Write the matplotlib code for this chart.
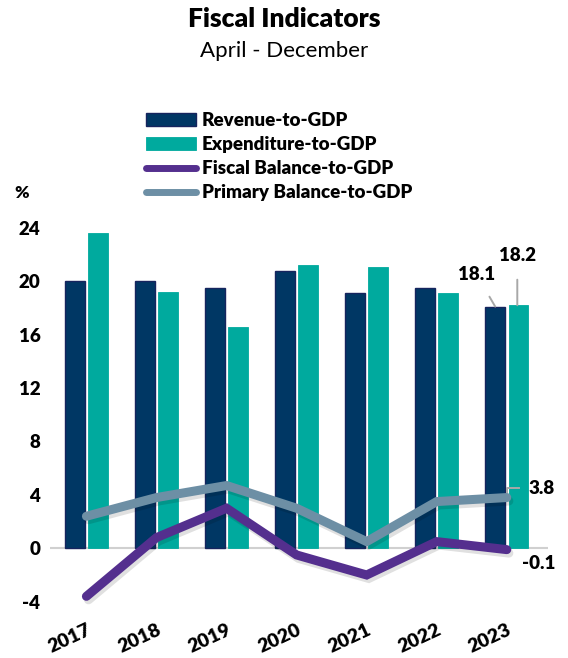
import matplotlib.pyplot as plt
import matplotlib.patheffects as pe
import numpy as np

years = ["2017", "2018", "2019", "2020", "2021", "2022", "2023"]
revenue = [20.0, 20.0, 19.5, 20.8, 19.1, 19.5, 18.1]
expenditure = [23.6, 19.2, 16.6, 21.2, 21.1, 19.1, 18.2]
fiscal_balance = [-3.6, 0.8, 3.0, -0.5, -2.0, 0.5, -0.1]
primary_balance = [2.4, 3.8, 4.7, 3.0, 0.5, 3.5, 3.8]

NAVY = "#003764"
TEAL = "#00aa9e"
PURPLE = "#542f8e"
STEEL = "#6d8fa5"

plt.rcParams["font.family"] = ["Lato", "DejaVu Sans"]

fig = plt.figure(figsize=(5.68, 6.58), dpi=100)
ax = fig.add_axes([0.088, 0.0734, 0.877, 0.6006])

x = np.arange(len(years))
w = 0.28
b1 = ax.bar(x - 0.165, revenue, w, color=NAVY, edgecolor="#16245e", linewidth=1.0,
            label="Revenue-to-GDP", zorder=2)
b2 = ax.bar(x + 0.165, expenditure, w, color=TEAL, edgecolor=TEAL, linewidth=0.6,
            label="Expenditure-to-GDP", zorder=2)

ax.axhline(0, color="#d0d0d0", lw=1.5, zorder=1)

shadow = [pe.SimpleLineShadow(offset=(1.5, -2.5), shadow_color="#000000", alpha=0.12),
          pe.Normal()]
l1, = ax.plot(x, fiscal_balance, color=PURPLE, lw=6.5, solid_capstyle="round",
              solid_joinstyle="miter", label="Fiscal Balance-to-GDP", zorder=4,
              path_effects=shadow)
l2, = ax.plot(x, primary_balance, color=STEEL, lw=6.5, solid_capstyle="round",
              solid_joinstyle="miter", label="Primary Balance-to-GDP", zorder=5,
              path_effects=shadow)

ax.set_xlim(-0.52, 6.59)
ax.set_ylim(-4.6, 25)
ax.set_yticks(np.arange(-4, 25, 4))
ax.set_yticklabels([str(v) for v in range(-4, 25, 4)], fontsize=13.5, fontweight="heavy")
ax.set_xticks(x)
ax.set_xticklabels(years, fontsize=14, fontweight="heavy", rotation=25,
                   ha="right", rotation_mode="anchor")
ax.tick_params(length=0, pad=7)
ax.tick_params(axis="x", pad=8)
for s in ax.spines.values():
    s.set_visible(False)

# value callouts for the latest year
last = len(years) - 1
ax.annotate(f"{revenue[last]:.1f}", xy=(last - 0.165, revenue[last]),
            xytext=(last - 0.43, revenue[last] + 2.4), fontsize=13.5, fontweight="heavy",
            ha="center", va="center",
            arrowprops=dict(arrowstyle="-", color="#a8a8a8", lw=1.4,
                            shrinkA=9, shrinkB=0))
ax.annotate(f"{expenditure[last]:.1f}", xy=(last + 0.15, expenditure[last]),
            xytext=(last + 0.15, expenditure[last] + 3.7), fontsize=13.5, fontweight="heavy",
            ha="center", va="center",
            arrowprops=dict(arrowstyle="-", color="#a8a8a8", lw=1.4,
                            shrinkA=9, shrinkB=0))
ax.plot([last, last, last + 0.18], [primary_balance[last], primary_balance[last] + 0.7,
                                     primary_balance[last] + 0.7],
        color="#a8a8a8", lw=1.4, zorder=3)
ax.text(last + 0.31, primary_balance[last] + 0.7, f"{primary_balance[last]:.1f}",
        fontsize=13.5, fontweight="heavy", va="center", ha="left")
ax.text(last + 0.22, fiscal_balance[last] - 1.05, f"{fiscal_balance[last]:.1f}",
        fontsize=13.5, fontweight="heavy", va="center", ha="left")

fig.text(0.5, 0.971, "Fiscal Indicators", fontsize=19, fontweight="heavy",
         ha="center", va="center")
fig.text(0.5, 0.922, "April - December", fontsize=16, ha="center", va="center")
fig.text(0.025, 0.706, "%", fontsize=12.5, fontweight="heavy", ha="left", va="center")

leg = fig.legend(handles=[b1, b2, l1, l2], loc="upper left",
                 bbox_to_anchor=(0.243, 0.841), frameon=False,
                 fontsize=13.5, handlelength=2.7, handletextpad=0.3, labelspacing=0.38,
                 borderaxespad=0)
for t in leg.get_texts():
    t.set_fontweight("heavy")
for h in leg.legend_handles[2:]:
    h.set_linewidth(5)
    h.set_path_effects([])

fig.savefig("out.png", dpi=100)
